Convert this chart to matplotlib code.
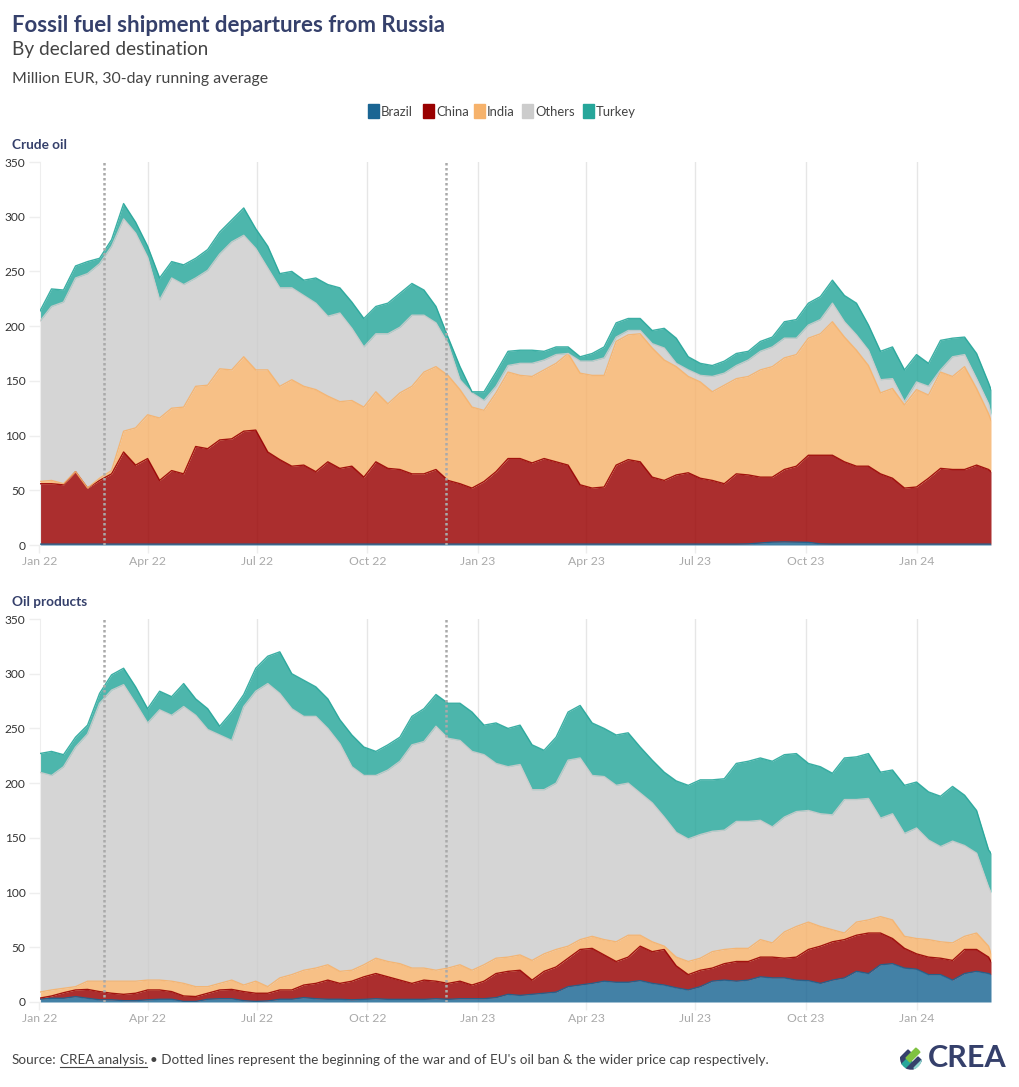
import matplotlib
matplotlib.use('Agg')
import matplotlib.pyplot as plt
from matplotlib.patches import Rectangle, Circle, Polygon
import pandas as pd

W, H = 1020, 1087
NAVY = '#35406b'
TEXT = '#444444'
FONT = 'Lato'

plt.rcParams['font.family'] = [FONT, 'DejaVu Sans']

# every 10 days, plus the last day
dates = pd.date_range('2022-01-01', periods=80, freq='10D').append(pd.DatetimeIndex(['2024-03-03']))

tick_dates = ['2022-01-01', '2022-04-01', '2022-07-01', '2022-10-01', '2023-01-01',
              '2023-04-01', '2023-07-01', '2023-10-01', '2024-01-01']
tick_labels = ['Jan 22', 'Apr 22', 'Jul 22', 'Oct 22', 'Jan 23', 'Apr 23', 'Jul 23', 'Oct 23', 'Jan 24']
y_ticks = [0, 50, 100, 150, 200, 250, 300, 350]
event_dates = ['2022-02-24', '2022-12-05']

destinations = ['Brazil', 'China', 'India', 'Others', 'Turkey']
colors = ['#1a6593', '#990000', '#f6b26b', '#cccccc', '#26a69a']

# upper edge of each band of the stack
crude_brazil = [0.8] * 59 + [1.0, 1.8, 2.6, 2.8, 2.6, 2.4, 1.0] + [0.8] * 15
crude_china = [56, 56, 55, 67, 52, 59, 65, 85, 73, 79, 59, 68, 65, 90, 88, 96, 97, 104, 105, 85, 78, 72, 73, 67, 76, 70,
               72, 62, 76, 70, 69, 65, 65, 69, 59, 56, 52, 58, 67, 79, 79, 75, 79, 76, 73, 55, 52, 53, 73, 78, 76, 62, 59, 64,
               66, 61, 59, 56, 65, 64, 62, 62, 69, 72, 82, 82, 82, 76, 72, 72, 65, 61, 52, 53, 61, 70, 69, 69, 73, 69, 67]
crude_india = [58, 59, 56, 67, 52, 61, 68, 104, 107, 119, 116, 125, 126, 145, 146, 161, 160, 172, 160, 160, 145, 151, 145, 142, 136, 131,
               132, 126, 140, 129, 139, 145, 158, 163, 155, 142, 126, 123, 139, 158, 155, 154, 160, 166, 175, 157, 155, 155, 186, 192, 193, 180, 169, 163,
               154, 149, 140, 146, 152, 154, 160, 163, 171, 174, 189, 193, 204, 190, 178, 164, 139, 143, 128, 142, 137, 158, 154, 163, 143, 120, 114]
crude_others = [204, 218, 222, 244, 248, 257, 273, 298, 285, 263, 224, 244, 238, 244, 251, 266, 277, 283, 271, 253, 235, 235, 228, 221, 209, 212,
                198, 181, 193, 193, 199, 210, 210, 203, 184, 151, 139, 132, 145, 164, 166, 166, 169, 174, 175, 168, 168, 171, 190, 196, 196, 184, 180, 166,
                160, 155, 154, 157, 164, 169, 177, 181, 189, 189, 201, 206, 221, 204, 192, 178, 151, 152, 131, 149, 145, 160, 172, 174, 152, 129, 119]
crude_turkey = [213, 234, 233, 255, 259, 262, 279, 312, 295, 273, 244, 259, 256, 262, 270, 286, 297, 308, 289, 273, 248, 250, 242, 244, 238, 235,
                222, 207, 218, 221, 230, 239, 233, 218, 190, 163, 140, 140, 158, 177, 178, 178, 177, 181, 181, 172, 175, 181, 203, 207, 207, 196, 198, 189,
                172, 166, 164, 168, 175, 177, 186, 190, 204, 206, 221, 227, 242, 228, 221, 201, 177, 181, 160, 174, 166, 187, 189, 190, 175, 148, 142]

products_brazil = [2.5, 3.4, 3.4, 4.9, 3.4, 2, 2, 1.2, 1.2, 2, 2.5, 2.5, 0.5, 0.5, 2.5, 3, 3, 1.2, 0.5, 1, 2.5, 2.5, 4, 3, 2.5, 2.5,
                   2, 2.4, 3, 2.4, 2.4, 2.4, 2.4, 3, 2.4, 3, 3, 3, 4, 7, 6, 7, 8, 9, 14, 15.5, 17, 19, 18, 18, 19.5, 17, 15.5, 13,
                   11, 14, 19, 20, 19, 20, 23, 22, 22, 20, 19.5, 17, 20, 22, 28, 26, 34, 35, 31, 30, 25, 25, 20, 26, 28, 26, 25]
products_china = [3.5, 5.5, 8.5, 11, 11.5, 9.5, 8, 7, 8, 11, 11, 9.5, 5.5, 5, 8, 11, 11.5, 9.5, 8, 8, 11, 11, 15.5, 17, 20, 17,
                  19, 23, 26, 23, 20, 17, 20, 19, 17, 19, 15.5, 19, 26, 28, 29, 20, 28, 32, 40, 48, 49, 43, 37, 41, 51, 46, 48, 33,
                  25, 29, 31, 35, 37, 37, 41, 41, 40, 41, 48, 51, 55, 57, 61, 63, 63, 58, 49, 44, 41, 40, 38, 48, 48, 41, 37]
products_india = [9, 11, 12.5, 14, 19, 19, 19, 19, 19, 20, 20, 19, 17, 14, 14, 17, 20, 15.5, 19, 14, 22, 25, 29, 31, 34, 28,
                  29, 34, 40, 37, 35, 31, 31, 29, 31, 34, 29, 34, 40, 41, 43, 38, 44, 48, 51, 57, 60, 57, 55, 61, 61, 55, 51, 41,
                  37, 40, 46, 48, 49, 49, 57, 54, 64, 69, 73, 69, 66, 63, 73, 75, 78, 75, 60, 58, 57, 55, 54, 60, 63, 51, 44.5]
products_others = [210, 207, 215, 233, 245, 273, 285, 290, 273, 255, 267, 262, 270, 262, 249, 244, 239, 270, 284, 291, 282, 268, 261, 261, 250, 236,
                   215, 207, 207, 212, 220, 235, 238, 252, 241, 239, 229, 226, 218, 215, 217, 194, 194, 200, 221, 223, 207, 206, 198, 200, 191, 182, 169, 155,
                   149, 153, 156, 157, 165, 165, 166, 160, 169, 174, 175, 172, 171, 185, 185, 186, 168, 172, 154, 159, 148, 142, 147, 143, 136, 105, 100]
products_turkey = [227, 229, 226, 242, 253, 282, 299, 305, 288, 268, 284, 279, 291, 277, 268, 252, 265, 281, 305, 316, 320, 300, 294, 288, 277, 258,
                   244, 233, 229, 235, 242, 261, 268, 281, 273, 273, 265, 253, 255, 250, 253, 235, 230, 242, 265, 271, 255, 250, 244, 246, 233, 221, 210, 202,
                   198, 203, 203, 204, 218, 220, 223, 220, 226, 227, 218, 215, 209, 223, 224, 227, 210, 212, 198, 201, 192, 188, 197, 189, 175, 139, 136]


def fx(px):
    return px / W


def fy(py):
    return 1 - py / H


def put(x, y, s, **kw):
    kw.setdefault('va', 'center')
    return fig.text(fx(x), fy(y), s, **kw)


fig = plt.figure(figsize=(W / 100, H / 100), dpi=100)


def draw_panel(top_px, bottom_px, tops):
    ax = fig.add_axes([fx(39.5), fy(bottom_px), 951.5 / W, (bottom_px - top_px) / H])
    lower = [0] * len(dates)
    ax.grid(axis='x', color='#e6e6e6', linewidth=1, zorder=1)
    ax.set_axisbelow(True)
    for upper, color in zip(tops, colors):
        ax.fill_between(dates, lower, upper, color=color, alpha=0.82, linewidth=0, zorder=2)
        ax.plot(dates, upper, color=color, linewidth=1, alpha=0.9, zorder=3)
        lower = upper
    for d in event_dates:
        ax.axvline(pd.Timestamp(d), color='#aaaaaa', linestyle=(0, (1, 1)), linewidth=1.8, zorder=4)
    ax.set_xlim(pd.Timestamp('2022-01-01'), dates[-1])
    ax.set_ylim(0, 350)
    ax.set_xticks(pd.to_datetime(tick_dates))
    ax.set_xticklabels(tick_labels, color='#aaaaaa', fontsize=8.8)
    ax.set_yticks(y_ticks)
    ax.set_yticklabels(y_ticks, color='#333333', fontsize=8.6)
    ax.tick_params(axis='x', length=6, width=1, color='#eeeeee', pad=2)
    ax.tick_params(axis='y', length=8, width=1, color='#eeeeee', pad=2)
    for side in ['top', 'right', 'bottom']:
        ax.spines[side].set_visible(False)
    ax.spines['left'].set_color('#eeeeee')
    return ax


draw_panel(162, 545, [crude_brazil, crude_china, crude_india, crude_others, crude_turkey])
draw_panel(619, 1002, [products_brazil, products_china, products_india, products_others, products_turkey])

# header
put(12, 25, 'Fossil fuel shipment departures from Russia', fontsize=16, fontweight='bold', color=NAVY)
put(12, 49, 'By declared destination', fontsize=13.7, color=TEXT)
put(12, 79, 'Million EUR, 30-day running average', fontsize=11.4, color=TEXT)
put(12, 145, 'Crude oil', fontsize=9.8, fontweight='bold', color=NAVY)
put(12, 602, 'Oil products', fontsize=9.8, fontweight='bold', color=NAVY)

# legend
legend_x = [368, 423, 474, 522, 583]
for name, color, x in zip(destinations, colors, legend_x):
    fig.add_artist(Rectangle((fx(x), fy(118)), 11 / W, 14 / H, color=color, transform=fig.transFigure))
    put(x + 13, 112, name, fontsize=9.4, color=TEXT)

# footer
renderer = fig.canvas.get_renderer()
t = put(12, 1060, 'Source:', fontsize=9.7, color=TEXT)
x = t.get_window_extent(renderer).x1 + 3
t = put(x, 1060, 'CREA analysis.', fontsize=9.7, color=TEXT)
box = t.get_window_extent(renderer)
fig.add_artist(plt.Line2D([fx(box.x0), fx(box.x1)], [fy(1067)] * 2, color=TEXT, linewidth=0.8))
put(box.x1 + 3, 1060, "• Dotted lines represent the beginning of the war and of EU's oil ban & the wider price cap respectively.",
    fontsize=9.7, color=TEXT)

# logo
put(928, 1058, 'CREA', fontsize=22, fontweight='bold', color=NAVY)
clip = Circle((fx(911), fy(1058)), 11 / W, transform=fig.transFigure, facecolor='none', edgecolor='none')
fig.add_artist(clip)
for color, (x0, y0) in [('#35406b', (896, 1062)), ('#26a69a', (896, 1070)), ('#7fc241', (906, 1058)),
                        ('#35406b', (906, 1069)), ('#8fd3cf', (914, 1068))]:
    pts = [(x0, y0), (x0 + 12, y0 - 12), (x0 + 16, y0 - 8), (x0 + 4, y0 + 4)]
    p = Polygon([(fx(a), fy(b)) for a, b in pts], color=color, transform=fig.transFigure)
    fig.add_artist(p)
    p.set_clip_path(clip)

fig.savefig('out.png', dpi=100)
